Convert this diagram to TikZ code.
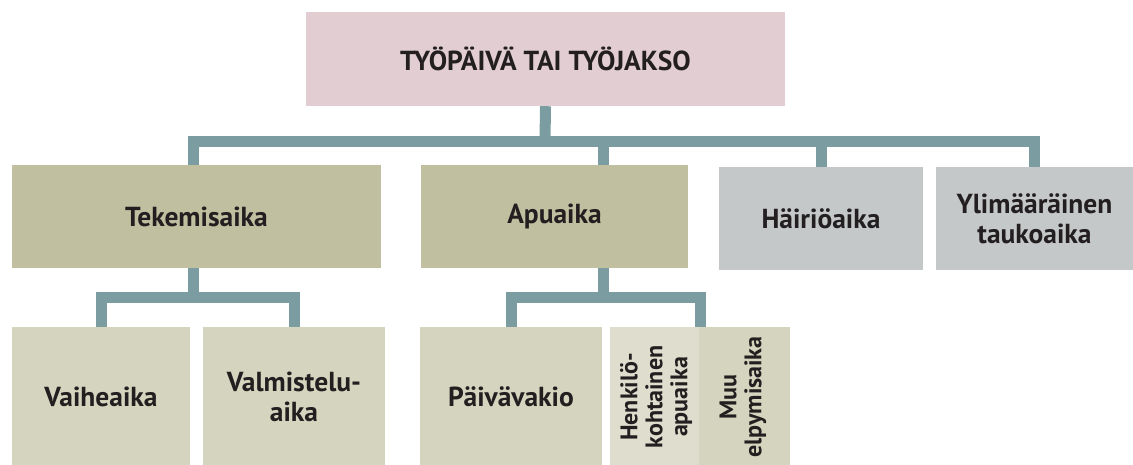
\documentclass[tikz,border=0pt]{standalone}
\usepackage{fontspec}
\setmainfont{PT Sans}
\usetikzlibrary{backgrounds}
\definecolor{toppink}{HTML}{E1CDD2}
\definecolor{olive}{HTML}{C0BFA0}
\definecolor{grayb}{HTML}{C5C8C8}
\definecolor{lolive}{HTML}{D5D4BE}
\definecolor{henk}{HTML}{DFDECE}
\definecolor{conncol}{HTML}{7B9CA1}
\definecolor{txt}{HTML}{231F20}
\tikzset{
  bx/.style={draw=none, inner sep=0pt, align=center, text=txt, font=\bfseries\fontsize{27.5}{30}\selectfont},
  conn/.style={draw=conncol, line width=11pt, line cap=butt, line join=miter},
  rot/.style={bx, rotate=90, font=\bfseries\fontsize{24}{25}\selectfont}
}
\begin{document}
\begin{tikzpicture}[x=1pt,y=-1pt]
\useasboundingbox (0,0) rectangle (1133,464);
% row 1
\node[bx, fill=toppink, minimum width=479, minimum height=94] (top) at (545.5,59) {TYÖPÄIVÄ TAI TYÖJAKSO};
% row 2
\node[bx, fill=olive, minimum width=369, minimum height=103] (tek) at (196.5,216.5) {Tekemisaika};
\node[bx, fill=olive, minimum width=267, minimum height=103] (apu) at (554.5,216.5) {Apuaika};
\node[bx, fill=grayb, minimum width=204, minimum height=103] (hai) at (821,218.5) {Häiriöaika};
\node[bx, fill=grayb, minimum width=197, minimum height=103] (yli) at (1034.5,218.5) {Ylimääräinen\\taukoaika};
% row 3
\node[bx, fill=lolive, minimum width=178, minimum height=140] (vai) at (101,397) {Vaiheaika};
\node[bx, fill=lolive, minimum width=182, minimum height=140] (val) at (294,397) {Valmistelu-\\aika};
\node[bx, fill=lolive, minimum width=182, minimum height=140] (pai) at (511,397) {Päivävakio};
\node[bx, fill=henk, minimum width=89, minimum height=140] (hen) at (654.5,397) {};
\node[bx, fill=lolive, minimum width=91, minimum height=140] (muu) at (744.5,397) {};
\node[rot] (hent) at (656,397) {Henkilö-\\kohtainen\\apuaika};
\node[rot] (muut) at (743,397) {Muu\\elpymisaika};
% coordinates for connectors
\coordinate (apuin) at (603,165);
\coordinate (apuout) at (603,268);
\coordinate (tekout) at (193,268);
\coordinate (tekin) at (193,165);
\coordinate (grp) at (700,327);
\begin{scope}[on background layer]
\draw[conn] (top.south) -- (545,141);
\draw[conn] (tekin) |- (hai.north |- 0,141) -- (hai.north);
\draw[conn] (tekin |- 0,141) -| (yli.north);
\draw[conn] (apuin) -- (apuin |- 0,141);
\draw[conn] (tekout) -- (193,297);
\draw[conn] (vai.north) |- (val.north |- 0,297) -- (val.north);
\draw[conn] (apuout) -- (603,297);
\draw[conn] (pai.north) |- (grp |- 0,297) -- (grp);
\end{scope}
\end{tikzpicture}
\end{document}
